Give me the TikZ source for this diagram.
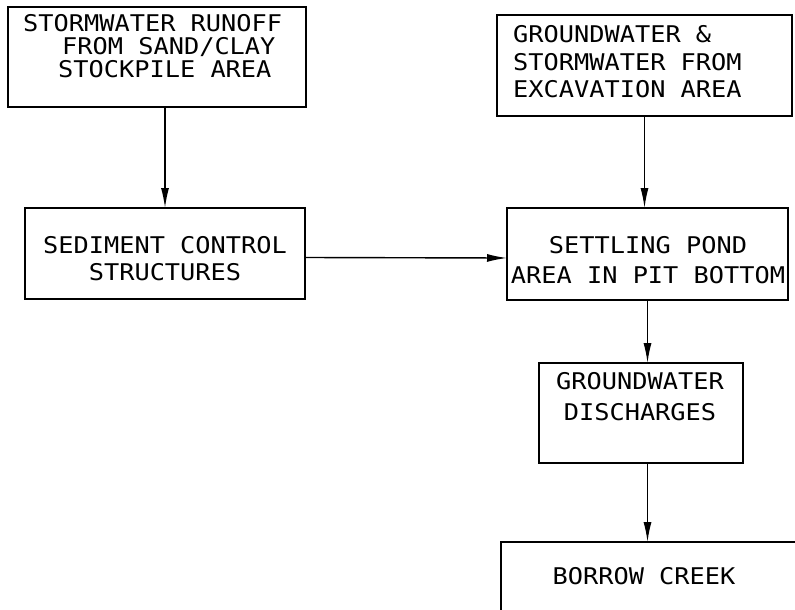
\documentclass[tikz,border=0pt]{standalone}
\usepackage{fontspec}
\newfontfamily\cadfont[FakeStretch=1.1]{DejaVu Sans Mono}
\usetikzlibrary{arrows.meta}
\begin{document}
\begin{tikzpicture}[x=1pt,y=-1pt,
  boxstyle/.style={draw,line width=1.6pt,inner sep=0pt,outer sep=0pt,anchor=north west},
  txt/.style={inner sep=0pt,font=\cadfont\fontsize{23}{#1}\selectfont},
  txt/.default=27,
  arr/.style={line width=1.4pt,-{Latex[length=20pt,width=8pt]}}]
\useasboundingbox (0,0) rectangle (795,610);
\clip (0,0) rectangle (795,610);
\node[boxstyle,minimum width=298pt,minimum height=100pt] (b1) at (8,7) {};
\node[boxstyle,minimum width=280pt,minimum height=91pt] (b2) at (25,208) {};
\node[boxstyle,minimum width=295pt,minimum height=101pt] (b3) at (497,15) {};
\node[boxstyle,minimum width=281pt,minimum height=92pt] (b4) at (507,208) {};
\node[boxstyle,minimum width=204pt,minimum height=100pt] (b5) at (539,363) {};
\node[boxstyle,minimum width=310pt,minimum height=90pt] (b6) at (501,542) {};
\node[txt=23,align=left,anchor=west] (t1) at (23,46.5) {STORMWATER RUNOFF\\\hspace*{39pt}FROM SAND/CLAY\\\hspace*{35pt}STOCKPILE AREA};
\node[txt=27,align=center] (t2) at (165,258.5) {SEDIMENT CONTROL\\STRUCTURES};
\node[txt=27.5,align=left,anchor=west] (t3) at (513,62) {GROUNDWATER \&\\STORMWATER FROM\\EXCAVATION AREA};
\node[txt=30,align=center] (t4) at (648,260) {SETTLING POND\\AREA IN PIT BOTTOM};
\node[txt=31,align=center] (t5) at (640,397) {GROUNDWATER\\DISCHARGES};
\node[txt,align=center] (t6) at (644,576) {BORROW CREEK};
\draw[arr] (b1.south -| b2.north) -- (b2.north);
\draw[arr] ([yshift=-4pt]b2.east) -- ([yshift=-4pt]b4.west);
\draw[arr] (b3.south) -- (b3.south |- b4.north);
\draw[arr] (b4.south) -- (b4.south |- b5.north);
\draw[arr] (b5.south -| b4.south) -- (b4.south |- b6.north);
\end{tikzpicture}
\end{document}
